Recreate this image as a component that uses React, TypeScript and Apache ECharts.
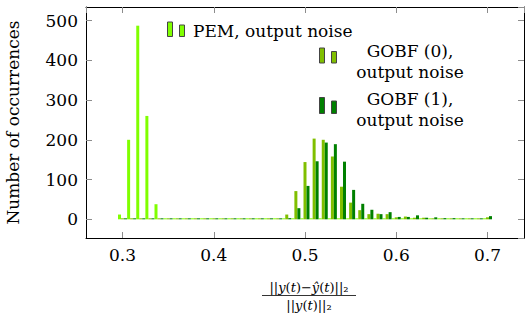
import React, { useEffect, useRef } from 'react';
import * as echarts from 'echarts';

// Histogram bin centres (shared by the three series)
const binCenters = [
  0.30, 0.31, 0.32, 0.33, 0.34, 0.35, 0.36, 0.37, 0.38, 0.39,
  0.40, 0.41, 0.42, 0.43, 0.44, 0.45, 0.46, 0.47, 0.48, 0.49,
  0.50, 0.51, 0.52, 0.53, 0.54, 0.55, 0.56, 0.57, 0.58, 0.59,
  0.60, 0.61, 0.62, 0.63, 0.64, 0.65, 0.66, 0.67, 0.68, 0.69,
  0.70,
];

const pemCounts = [
  12, 200, 487, 260, 38, 0, 0, 0, 0, 0,
  0, 0, 0, 0, 0, 0, 0, 0, 0, 0,
  0, 0, 0, 0, 0, 0, 0, 0, 0, 0,
  0, 0, 0, 0, 0, 0, 0, 0, 0, 0,
  0,
];

const gobf0Counts = [
  0, 0, 0, 0, 0, 0, 0, 0, 0, 0,
  0, 0, 0, 0, 0, 0, 0, 0, 12, 71,
  144, 203, 200, 158, 82, 42, 23, 13, 14, 13,
  5, 7, 4, 4, 2, 2, 1, 2, 1, 2,
  5,
];

const gobf1Counts = [
  0, 0, 0, 0, 0, 0, 0, 0, 0, 0,
  0, 0, 0, 0, 0, 0, 0, 2, 3, 28,
  84, 146, 193, 189, 145, 74, 39, 24, 13, 18,
  6, 6, 10, 4, 5, 3, 3, 1, 2, 2,
  8,
];

const xTickLabels = [0.3, 0.4, 0.5, 0.6, 0.7];
const yTickLabels = [0, 100, 200, 300, 400, 500];

const seriesNames = ['PEM, output noise', 'GOBF (0), output noise', 'GOBF (1), output noise'];
const seriesColors = ['#80ff00', '#80bf00', '#008000'];

const FONT = 'DejaVu Serif';

export default function App() {
  const ref = useRef<HTMLDivElement>(null);

  useEffect(() => {
    if (!ref.current) return;
    const chart = echarts.init(ref.current, undefined, { renderer: 'svg' });

    const xFormatter = (v: number) => {
      const hit = xTickLabels.find((t) => Math.abs(t - v) < 1e-6);
      return hit !== undefined ? hit.toFixed(1) : '';
    };
    const yFormatter = (v: number) => {
      const hit = yTickLabels.find((t) => Math.abs(t - v) < 1e-6);
      return hit !== undefined ? String(hit) : '';
    };

    const tickStyle = { show: true, inside: true, length: 6, lineStyle: { color: '#8c8c8c', width: 1 } };
    const lineStyle = { show: true, onZero: false, lineStyle: { color: '#000', width: 1 } };
    const labelStyle = { fontFamily: FONT, fontSize: 17, color: '#000' };

    const legendItem = (i: number, x: number, y1: number, h1: number, y2: number, h2: number) => [
      {
        type: 'rect',
        shape: { x, y: y1, width: 5, height: h1 },
        style: { fill: seriesColors[i], stroke: '#444', lineWidth: 1 },
      },
      {
        type: 'rect',
        shape: { x: x + 12, y: y2, width: 5, height: h2 },
        style: { fill: seriesColors[i], stroke: '#444', lineWidth: 1 },
      },
    ];

    const rich = {
      n: { fontFamily: FONT, fontSize: 13, color: '#000' },
      i: { fontFamily: FONT, fontSize: 13, fontStyle: 'italic', color: '#000' },
    };

    const option: any = {
      animation: false,
      grid: { left: 86, right: 8, top: 7, bottom: 77, show: false, containLabel: false, outerBoundsMode: 'none' },
      xAxis: [
        {
          type: 'value',
          min: 0.26,
          max: 0.74,
          position: 'bottom',
          axisLine: lineStyle,
          axisTick: tickStyle,
          axisLabel: { ...labelStyle, margin: 8, formatter: xFormatter, showMinLabel: false, showMaxLabel: false },
          splitLine: { show: false },
        },
        {
          type: 'value',
          min: 0.26,
          max: 0.74,
          position: 'top',
          axisLine: lineStyle,
          axisTick: tickStyle,
          axisLabel: { show: false },
          splitLine: { show: false },
        },
      ],
      yAxis: [
        {
          type: 'value',
          min: -47,
          max: 534,
          position: 'left',
          axisLine: lineStyle,
          axisTick: tickStyle,
          axisLabel: { ...labelStyle, margin: 8, formatter: yFormatter, showMinLabel: false, showMaxLabel: false },
          splitLine: { show: false },
          name: 'Number of occurrences',
          nameLocation: 'middle',
          nameGap: 65,
          nameTextStyle: { fontFamily: FONT, fontSize: 17, color: '#000' },
        },
        {
          type: 'value',
          min: -47,
          max: 534,
          position: 'right',
          axisLine: lineStyle,
          axisTick: tickStyle,
          axisLabel: { show: false },
          splitLine: { show: false },
        },
      ],
      series: [pemCounts, gobf0Counts, gobf1Counts].map((counts, i) => ({
        type: 'bar',
        name: seriesNames[i],
        xAxisIndex: 0,
        yAxisIndex: 0,
        barWidth: 3,
        barGap: '0%',
        barMinHeight: 1,
        itemStyle: { color: seriesColors[i] },
        data: binCenters.map((x, k) => [x, counts[k]]),
      })),
      graphic: [
        ...legendItem(0, 167.5, 22, 14.5, 25, 11.5),
        {
          type: 'text',
          x: 193,
          y: 31,
          style: { text: 'PEM, output noise', font: `17px "${FONT}"`, fill: '#000', verticalAlign: 'middle', align: 'left' },
        },
        ...legendItem(1, 319.5, 48, 15, 51.5, 11.5),
        {
          type: 'text',
          x: 410,
          y: 61,
          style: {
            text: 'GOBF (0),\noutput noise',
            font: `17px "${FONT}"`,
            lineHeight: 21,
            fill: '#000',
            verticalAlign: 'middle',
            align: 'center',
          },
        },
        ...legendItem(2, 319.5, 97.5, 16, 101, 12.5),
        {
          type: 'text',
          x: 410,
          y: 109,
          style: {
            text: 'GOBF (1),\noutput noise',
            font: `17px "${FONT}"`,
            lineHeight: 21,
            fill: '#000',
            verticalAlign: 'middle',
            align: 'center',
          },
        },
        {
          type: 'text',
          x: 309,
          y: 287,
          style: {
            text: '{n|||}{i|y}{n|(}{i|t}{n|)−}{i|ŷ}{n|(}{i|t}{n|)||₂}',
            rich,
            align: 'center',
            verticalAlign: 'middle',
          },
        },
        {
          type: 'line',
          shape: { x1: 262, y1: 295.5, x2: 356, y2: 295.5 },
          style: { stroke: '#000', lineWidth: 0.8 },
        },
        {
          type: 'text',
          x: 309,
          y: 305,
          style: {
            text: '{n|||}{i|y}{n|(}{i|t}{n|)||₂}',
            rich,
            align: 'center',
            verticalAlign: 'middle',
          },
        },
      ],
    };

    chart.setOption(option);
    return () => chart.dispose();
  }, []);

  return (
    <div
      ref={ref}
      style={{ position: 'fixed', left: 0, top: 0, width: 532, height: 315, background: '#fff' }}
    />
  );
}
